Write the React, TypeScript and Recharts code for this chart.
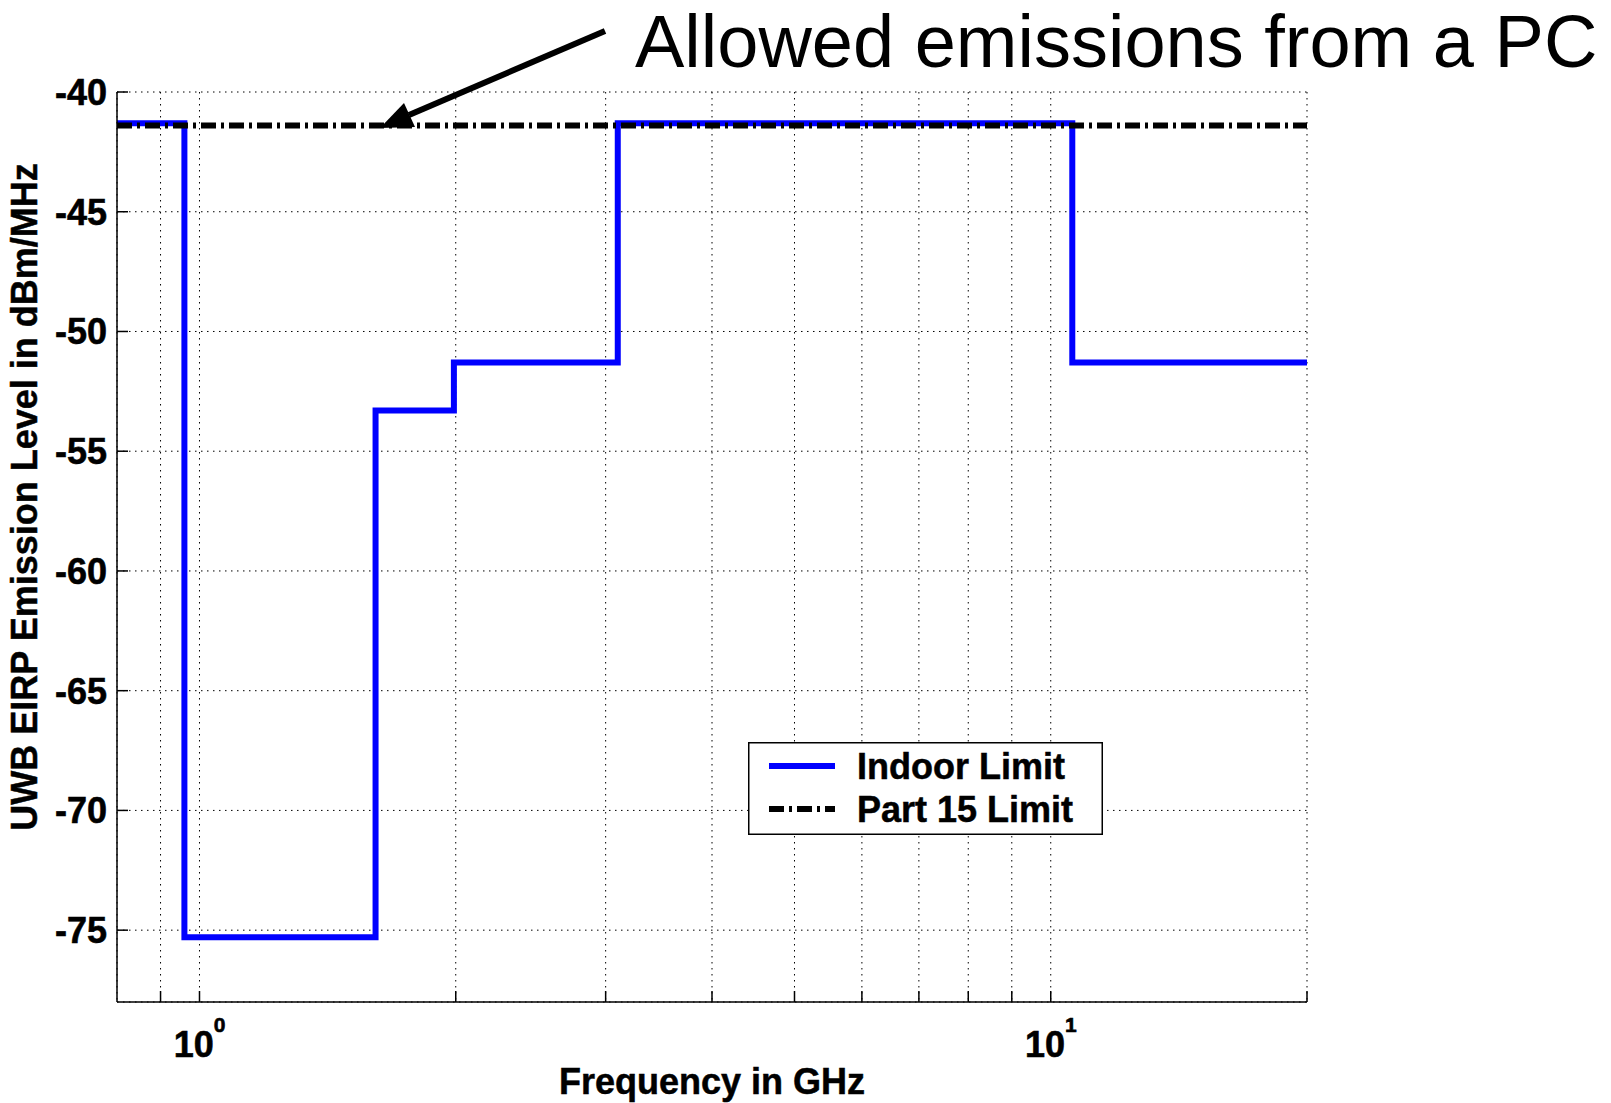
import { CartesianGrid, Legend, Line, LineChart, XAxis, YAxis } from "recharts";

// Indoor UWB emission mask (step function, value holds until next frequency)
const maskFreqGHz = [0.8, 0.96, 1.61, 1.99, 3.1, 10.6, 20];
const indoorLimit = [-41.3, -75.3, -53.3, -51.3, -41.3, -51.3, -51.3];

// Part 15 limit across the whole band
const part15FreqGHz = [0.8, 20];
const part15Limit = [-41.4, -41.4];

const xTicks = [0.9, 1, 2, 3, 4, 5, 6, 7, 8, 9, 10, 20];
const yTicks = [-75, -70, -65, -60, -55, -50, -45, -40];

const indoorData = maskFreqGHz.map((f, i) => ({ f, v: indoorLimit[i] }));
const part15Data = part15FreqGHz.map((f, i) => ({ f, v: part15Limit[i] }));

const FONT = '"Liberation Sans", Arial, Helvetica, sans-serif';
const TICK_LEN = 11;
const Y_TICK_GAP = 10;
const X_TICK_GAP = 10;
const PART15_DASH = "15 5 3 5";

function YTick(props: any) {
    const { x, y, payload } = props;
    const axisX = x + Y_TICK_GAP;
    return (
        <g>
            <line x1={axisX} x2={axisX + TICK_LEN} y1={y} y2={y} stroke="#000" strokeWidth={1.5} />
            <text
                x={x}
                y={y}
                dy="0.36em"
                textAnchor="end"
                fontSize={36}
                fontWeight="bold"
                fontFamily={FONT}
                fill="#000"
                stroke="#000"
                strokeWidth={0.6}
            >
                {payload.value}
            </text>
        </g>
    );
}

function XTick(props: any) {
    const { x, y, payload } = props;
    const axisY = y - X_TICK_GAP;
    const exp = Math.log10(payload.value);
    const isDecade = Math.abs(exp - Math.round(exp)) < 1e-9;
    return (
        <g>
            <line x1={x} x2={x} y1={axisY} y2={axisY - TICK_LEN} stroke="#000" strokeWidth={1.5} />
            {isDecade && (
                <text
                    x={x}
                    y={axisY + 55}
                    textAnchor="middle"
                    fontSize={36}
                    fontWeight="bold"
                    fontFamily={FONT}
                    fill="#000"
                    stroke="#000"
                    strokeWidth={0.6}
                >
                    <tspan>10</tspan>
                    <tspan dy={-25} fontSize={21}>
                        {Math.round(exp)}
                    </tspan>
                </text>
            )}
        </g>
    );
}

function LegendBox(props: any) {
    const { payload = [] } = props;
    const rows = [24, 67];
    return (
        <svg width={355} height={93} style={{ display: "block" }}>
            <rect x={0.75} y={0.75} width={353.5} height={91.5} fill="#fff" stroke="#000" strokeWidth={1.5} />
            {payload.map((entry: any, i: number) => (
                <g key={entry.value}>
                    <line
                        x1={21}
                        x2={87}
                        y1={rows[i]}
                        y2={rows[i]}
                        stroke={entry.color}
                        strokeWidth={6}
                        strokeDasharray={entry.value === "Part 15 Limit" ? PART15_DASH : undefined}
                    />
                    <text
                        x={109}
                        y={rows[i]}
                        dy="0.36em"
                        fontSize={36}
                        fontWeight="bold"
                        fontFamily={FONT}
                        fill="#000"
                        stroke="#000"
                        strokeWidth={0.5}
                    >
                        {entry.value}
                    </text>
                </g>
            ))}
        </svg>
    );
}

export default function App() {
    return (
        <div style={{ position: "absolute", left: 0, top: 0, width: 1611, height: 1103, background: "#fff" }}>
            <LineChart
                width={1611}
                height={1103}
                margin={{ top: 92, right: 304, bottom: 0, left: 0 }}
            >
                <CartesianGrid stroke="#000" strokeWidth={1} strokeDasharray="1.5 4.5" />
                <XAxis
                    dataKey="f"
                    type="number"
                    scale="log"
                    domain={[0.8, 20]}
                    ticks={xTicks}
                    interval={0}
                    height={101}
                    tickSize={0}
                    tickMargin={X_TICK_GAP}
                    tickLine={false}
                    axisLine={{ stroke: "#000", strokeWidth: 1.5 }}
                    tick={<XTick />}
                    allowDataOverflow
                />
                <YAxis
                    dataKey="v"
                    type="number"
                    domain={[-78, -40]}
                    ticks={yTicks}
                    interval={0}
                    width={117}
                    tickSize={0}
                    tickMargin={Y_TICK_GAP}
                    tickLine={false}
                    axisLine={{ stroke: "#000", strokeWidth: 1.5 }}
                    tick={<YTick />}
                    allowDataOverflow
                />
                <Legend
                    layout="horizontal"
                    verticalAlign="middle"
                    align="center"
                    content={<LegendBox />}
                    wrapperStyle={{ left: 748, top: 742, width: 355, height: 93 }}
                />
                <Line
                    data={indoorData}
                    dataKey="v"
                    name="Indoor Limit"
                    type="stepAfter"
                    stroke="#0000ff"
                    strokeWidth={6}
                    dot={false}
                    isAnimationActive={false}
                />
                <Line
                    data={part15Data}
                    dataKey="v"
                    name="Part 15 Limit"
                    type="linear"
                    stroke="#000000"
                    strokeWidth={6}
                    strokeDasharray={PART15_DASH}
                    dot={false}
                    isAnimationActive={false}
                />
            </LineChart>

            {/* axis titles and the callout */}
            <svg
                width={1611}
                height={1103}
                style={{ position: "absolute", left: 0, top: 0, pointerEvents: "none" }}
            >
                <text
                    x={712}
                    y={1094}
                    textAnchor="middle"
                    fontSize={36}
                    fontWeight="bold"
                    fontFamily={FONT}
                    fill="#000"
                    stroke="#000"
                    strokeWidth={0.5}
                >
                    Frequency in GHz
                </text>
                <text
                    transform="translate(37, 497) rotate(-90)"
                    textAnchor="middle"
                    fontSize={36}
                    fontWeight="bold"
                    fontFamily={FONT}
                    fill="#000"
                    stroke="#000"
                    strokeWidth={0.5}
                >
                    UWB EIRP Emission Level in dBm/MHz
                </text>
                <text x={635} y={67} fontSize={74} fontFamily={FONT} fill="#000">
                    Allowed emissions from a PC
                </text>
                <line x1={605} y1={31} x2={409} y2={115} stroke="#000" strokeWidth={6} />
                <polygon points="380,128 404,103 415,127" fill="#000" />
            </svg>
        </div>
    );
}
